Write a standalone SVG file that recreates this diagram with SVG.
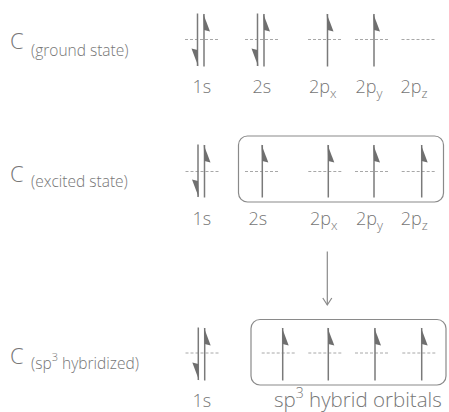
<svg xmlns="http://www.w3.org/2000/svg" xmlns:xlink="http://www.w3.org/1999/xlink" width="449" height="412" viewBox="0 0 449 412">
  <style>
    text { font-family: "Open Sans", "Noto Sans", "Liberation Sans", sans-serif; font-weight: 300; fill: #767676; }
    .big { font-size: 22px; }
    .sub { font-size: 15.5px; }
    .lbl { font-size: 18px; }
    .idx { font-size: 13px; }
    .lvl { stroke: #a8a8a8; stroke-width: 1; stroke-dasharray: 3 2; fill: none; }
    .box { stroke: #8a8a8a; stroke-width: 1.2; fill: none; }
    .link { stroke: #8a8a8a; stroke-width: 1.2; fill: none; }
  </style>
  <defs>
    <!-- electron spin harpoons, drawn from the top of the arrow (y=0), 53 px long -->
    <g id="up">
      <line x1="0" y1="0.5" x2="0" y2="53" stroke="#7a7a7a" stroke-width="1.5"/>
      <polygon points="-0.8,0 6,18 0,16.5" fill="#6f6f6f"/>
    </g>
    <g id="down">
      <line x1="0" y1="0" x2="0" y2="52.5" stroke="#7a7a7a" stroke-width="1.5"/>
      <polygon points="0.8,53 -6,35 0,36.5" fill="#6f6f6f"/>
    </g>
  </defs>

  <!-- row 1: ground state -->
  <g id="label-ground">
    <text class="big" x="10" y="49">C</text>
    <text class="sub" x="31" y="56">(ground state)</text>
  </g>
  <g id="g-1s">
    <line class="lvl" x1="185" y1="39.5" x2="220" y2="39.5"/>
    <use xlink:href="#down" x="197.5" y="13.5"/>
    <use xlink:href="#up" x="204" y="13.5"/>
    <text class="lbl" x="192.5" y="93">1s</text>
  </g>
  <g id="g-2s">
    <line class="lvl" x1="245" y1="39.5" x2="280" y2="39.5"/>
    <use xlink:href="#down" x="257.5" y="13.5"/>
    <use xlink:href="#up" x="264" y="13.5"/>
    <text class="lbl" x="252.5" y="93">2s</text>
  </g>
  <g id="g-2px">
    <line class="lvl" x1="308" y1="39.5" x2="343" y2="39.5"/>
    <use xlink:href="#up" x="327.5" y="13.5"/>
    <text class="lbl" x="309" y="93">2p<tspan class="idx" dy="5">x</tspan></text>
  </g>
  <g id="g-2py">
    <line class="lvl" x1="355" y1="39.5" x2="389.5" y2="39.5"/>
    <use xlink:href="#up" x="374" y="13.5"/>
    <text class="lbl" x="355.5" y="93">2p<tspan class="idx" dy="5">y</tspan></text>
  </g>
  <g id="g-2pz">
    <line class="lvl" x1="401.5" y1="39.5" x2="436.5" y2="39.5"/>
    <text class="lbl" x="400.5" y="93">2p<tspan class="idx" dy="5">z</tspan></text>
  </g>

  <!-- row 2: excited state -->
  <g id="label-excited">
    <text class="big" x="10" y="181.5">C</text>
    <text class="sub" x="31" y="187">(excited state)</text>
  </g>
  <g id="e-1s">
    <line class="lvl" x1="185.5" y1="171.5" x2="220" y2="171.5"/>
    <use xlink:href="#down" x="198" y="144.5"/>
    <use xlink:href="#up" x="204.5" y="144.5"/>
    <text class="lbl" x="192.5" y="224.5">1s</text>
  </g>
  <g id="e-box">
    <rect class="box" x="238.5" y="136" width="205" height="66" rx="9"/>
  </g>
  <g id="e-2s">
    <line class="lvl" x1="245" y1="171.5" x2="280" y2="171.5"/>
    <use xlink:href="#up" x="262.3" y="144.5"/>
    <text class="lbl" x="248.5" y="224.5">2s</text>
  </g>
  <g id="e-2px">
    <line class="lvl" x1="308.3" y1="171.5" x2="342.7" y2="171.5"/>
    <use xlink:href="#up" x="328.3" y="144.5"/>
    <text class="lbl" x="310" y="224.5">2p<tspan class="idx" dy="5">x</tspan></text>
  </g>
  <g id="e-2py">
    <line class="lvl" x1="355" y1="171.5" x2="389.3" y2="171.5"/>
    <use xlink:href="#up" x="374" y="144.5"/>
    <text class="lbl" x="356" y="224.5">2p<tspan class="idx" dy="5">y</tspan></text>
  </g>
  <g id="e-2pz">
    <line class="lvl" x1="401.7" y1="171.5" x2="436.7" y2="171.5"/>
    <use xlink:href="#up" x="421.7" y="144.5"/>
    <text class="lbl" x="400.7" y="224.5">2p<tspan class="idx" dy="5">z</tspan></text>
  </g>

  <!-- row 3: sp3 hybridized -->
  <g id="label-hybrid">
    <text class="big" x="10" y="364">C</text>
    <text class="sub" x="31" y="368.5">(sp<tspan font-size="11" dy="-8">3</tspan><tspan dy="8"> hybridized)</tspan></text>
  </g>
  <g id="h-1s">
    <line class="lvl" x1="185.5" y1="353" x2="220" y2="353"/>
    <use xlink:href="#down" x="198.3" y="327.5"/>
    <use xlink:href="#up" x="204.7" y="327.5"/>
    <text class="lbl" x="192.5" y="406.5">1s</text>
  </g>
  <g id="h-box">
    <rect class="box" x="251" y="319.5" width="195" height="65.5" rx="9"/>
  </g>
  <g id="h-sp3-1">
    <line class="lvl" x1="261.7" y1="353" x2="295" y2="353"/>
    <use xlink:href="#up" x="282.7" y="327.5"/>
  </g>
  <g id="h-sp3-2">
    <line class="lvl" x1="308.3" y1="353" x2="341.7" y2="353"/>
    <use xlink:href="#up" x="328.3" y="327.5"/>
  </g>
  <g id="h-sp3-3">
    <line class="lvl" x1="355" y1="353" x2="388.3" y2="353"/>
    <use xlink:href="#up" x="375" y="327.5"/>
  </g>
  <g id="h-sp3-4">
    <line class="lvl" x1="402.3" y1="353" x2="436.7" y2="353"/>
    <use xlink:href="#up" x="421.7" y="327.5"/>
  </g>
  <g id="h-caption">
    <text x="274" y="406.5" font-size="20.5">sp<tspan font-size="14" dy="-9">3</tspan><tspan dy="9"> hybrid orbitals</tspan></text>
  </g>

  <!-- connector: excited state to hybridized -->
  <g id="connectors">
    <line class="link" x1="327.3" y1="251.5" x2="327.3" y2="305"/>
    <polyline class="link" points="322.8,298 327.3,305 331.8,298"/>
  </g>
</svg>
